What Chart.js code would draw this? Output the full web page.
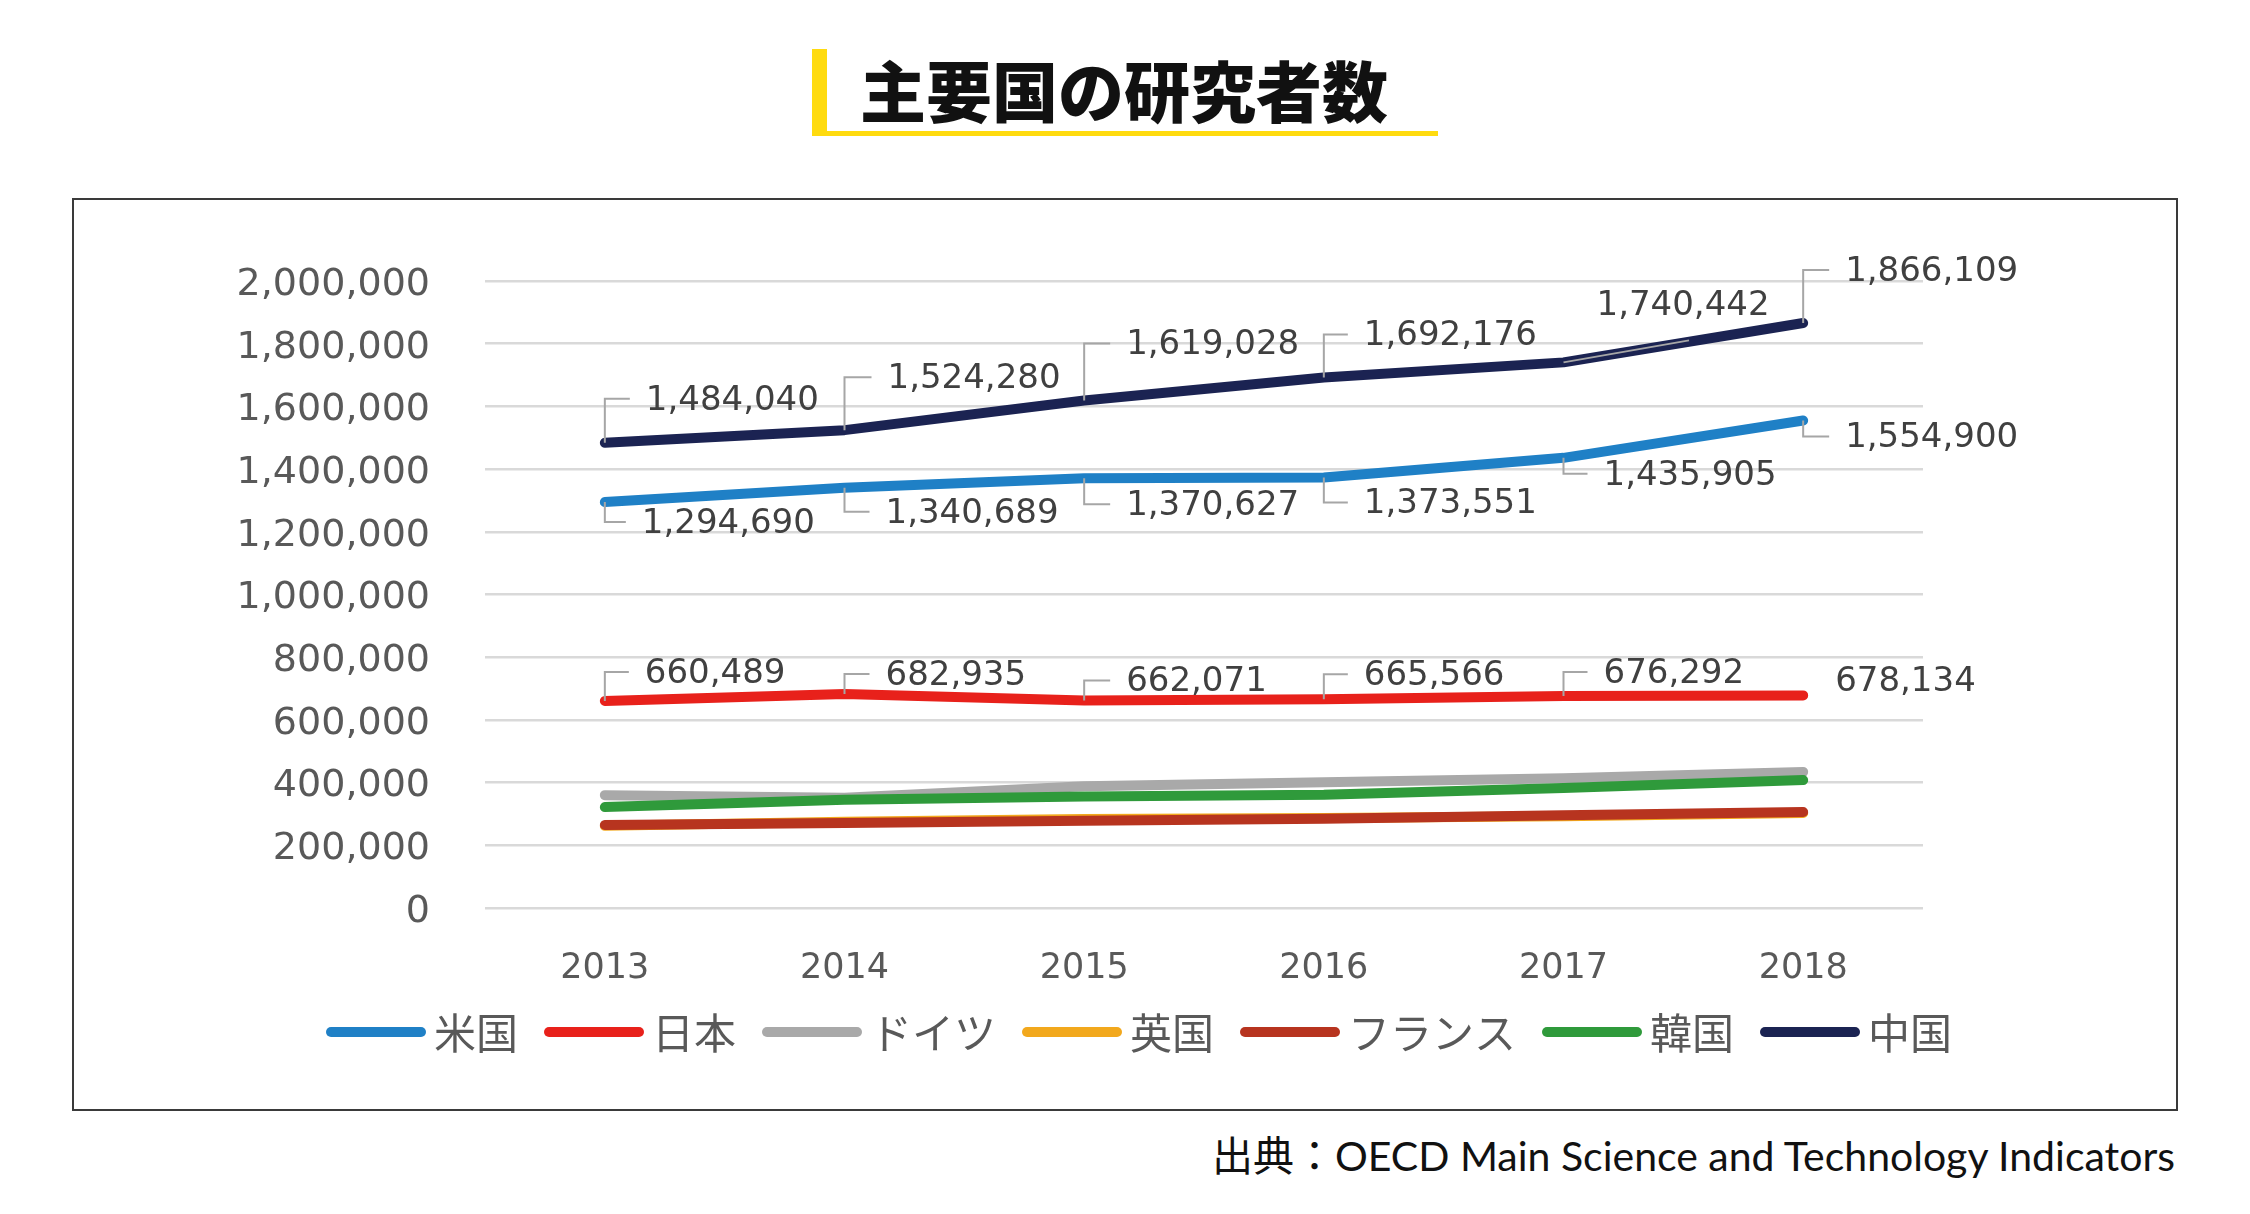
<!DOCTYPE html>
<html>
<head>
<meta charset="utf-8">
<script src="https://cdn.jsdelivr.net/npm/chart.js@4.4.1/dist/chart.umd.min.js"></script>
<style>
html, body { margin: 0; padding: 0; background: #fff; width: 2250px; height: 1214px; overflow: hidden; }
#bar { position: absolute; left: 812px; top: 49px; width: 15px; height: 87px; background: #ffdb0f; }
#underline { position: absolute; left: 812px; top: 131px; width: 626px; height: 5px; background: #ffdb0f; }
#title { position: absolute; left: 860px; top: 40px; height: 76px; line-height: 76px; font: 900 66px "Noto Sans CJK JP"; color: #111; white-space: nowrap; }
#box { position: absolute; left: 72px; top: 198px; width: 2106px; height: 913px; border: 2px solid #3a3a3a; box-sizing: border-box; }
#source { position: absolute; right: 75px; top: 1123px; line-height: 46px; font: 41px Lato, "Noto Sans CJK JP"; color: #111; white-space: nowrap; }
</style>
</head>
<body>
<div id="bar"></div>
<div id="underline"></div>
<div id="title">主要国の研究者数</div>
<div id="box"><canvas id="researchChart" width="2102" height="909"></canvas></div>
<div id="source">出典：OECD Main Science and Technology Indicators</div>

<script>
// DATA
const years = ['2013', '2014', '2015', '2016', '2017', '2018'];
const seriesNames = ['米国', '日本', 'ドイツ', '英国', 'フランス', '韓国', '中国'];
const usa     = [1294690, 1340689, 1370627, 1373551, 1435905, 1554900];
const japan   = [660489, 682935, 662071, 665566, 676292, 678134];
const germany = [360000, 352000, 388000, 401000, 414000, 434000];
const uk      = [262000, 275000, 284000, 287000, 293000, 303000];
const france  = [265000, 271000, 278000, 285000, 296000, 306000];
const korea   = [322000, 345000, 356000, 361000, 383000, 408000];
const china   = [1484040, 1524280, 1619028, 1692176, 1740442, 1866109];
const yMin = 0, yMax = 2000000, yStep = 200000;

// STYLE
const seriesColors = ['#1f80c6', '#e8211b', '#a9a9a9', '#f2a81d', '#b7341f', '#2f9a3b', '#1b2352'];

// label offsets from each point: [dx, dy, leader]
const labelLayout = {
    0: [[37, 20, 'down'], [41, 24, 'down'], [42, 26, 'down'], [40, 25, 'down'], [40, 16, 'down'], [42, 16, 'down']],
    1: [[40, -29, 'up'], [41, -20, 'up'], [42, -20, 'up'], [40, -25, 'up'], [40, -24, 'up'], [32, -15, 'none']],
    6: [[41, -44, 'up'], [43, -53, 'up'], [42, -57, 'up'], [40, -43, 'up'], [33, -58, 'diag'], [42, -53, 'up']]
};

const fmt = v => v.toLocaleString('en-US');

const dataLabels = {
    id: 'dataLabels',
    afterDatasetsDraw(chart) {
        const ctx = chart.ctx;
        ctx.save();
        ctx.font = '34px "DejaVu Sans"';
        ctx.textBaseline = 'middle';
        ctx.textAlign = 'left';
        Object.keys(labelLayout).forEach(k => {
            const i = +k;
            const meta = chart.getDatasetMeta(i);
            const values = chart.data.datasets[i].data;
            meta.data.forEach((pt, j) => {
                const [dx, dy, kind] = labelLayout[i][j];
                const tx = pt.x + dx, ty = pt.y + dy;
                const text = fmt(values[j]);
                const w = ctx.measureText(text).width;
                ctx.strokeStyle = '#a6a6a6';
                ctx.lineWidth = 2;
                ctx.beginPath();
                if (kind === 'up' || kind === 'down') {
                    ctx.moveTo(pt.x, pt.y);
                    ctx.lineTo(pt.x, ty);
                    ctx.lineTo(tx - 16, ty);
                } else if (kind === 'diag') {
                    ctx.moveTo(pt.x, pt.y);
                    ctx.lineTo(tx + w / 2 + 6, ty + 36);
                }
                ctx.stroke();
                ctx.fillStyle = '#404040';
                ctx.fillText(text, tx, ty + 2);
            });
        });
        ctx.restore();
    }
};

const bottomLegend = {
    id: 'bottomLegend',
    afterDraw(chart) {
        const ctx = chart.ctx;
        const lineLen = 100, gapText = 8, gapItem = 26, cx = 1065, cy = 832;
        ctx.save();
        ctx.font = '42px "Noto Sans CJK JP"';
        ctx.textBaseline = 'middle';
        ctx.textAlign = 'left';
        const widths = chart.data.datasets.map(d => ctx.measureText(d.label).width);
        let total = 0;
        widths.forEach((w, i) => { total += lineLen + gapText + w + (i ? gapItem : 0); });
        let x = cx - total / 2;
        chart.data.datasets.forEach((d, i) => {
            ctx.strokeStyle = d.borderColor;
            ctx.lineWidth = 10;
            ctx.lineCap = 'round';
            ctx.beginPath();
            ctx.moveTo(x + 5, cy);
            ctx.lineTo(x + lineLen - 5, cy);
            ctx.stroke();
            ctx.fillStyle = '#595959';
            ctx.fillText(d.label, x + lineLen + gapText, cy + 1);
            x += lineLen + gapText + widths[i] + gapItem;
        });
        ctx.restore();
    }
};

const allSeries = [usa, japan, germany, uk, france, korea, china];

const datasets = allSeries.map((values, i) => ({
    label: seriesNames[i],
    data: values,
    borderColor: seriesColors[i],
    backgroundColor: seriesColors[i],
    borderWidth: 10,
    borderCapStyle: 'round',
    borderJoinStyle: 'round',
    pointRadius: 0,
    tension: 0,
    order: allSeries.length - i
}));

const config = {
    type: 'line',
    data: { labels: years, datasets },
    options: {
        responsive: false,
        animation: false,
        layout: { padding: { left: 0, right: 253, top: 81, bottom: 0 } },
        plugins: {
            legend: { display: false },
            tooltip: { enabled: false }
        },
        scales: {
            x: {
                offset: true,
                grid: { display: false },
                border: { display: false },
                ticks: { color: '#595959', font: { family: 'DejaVu Sans', size: 35 }, padding: 32 },
                afterFit: axis => { axis.height = 201; }
            },
            y: {
                min: yMin,
                max: yMax,
                grid: { color: '#d9d9d9', lineWidth: 2.5, drawTicks: false },
                border: { display: false },
                ticks: {
                    stepSize: yStep,
                    color: '#595959',
                    font: { family: 'DejaVu Sans', size: 38 },
                    padding: 55,
                    labelOffset: 4,
                    callback: v => fmt(v)
                },
                afterFit: axis => { axis.width = 411; }
            }
        }
    },
    plugins: [dataLabels, bottomLegend]
};

const researchChart = new Chart(document.getElementById('researchChart'), config);
</script>
</body>
</html>
